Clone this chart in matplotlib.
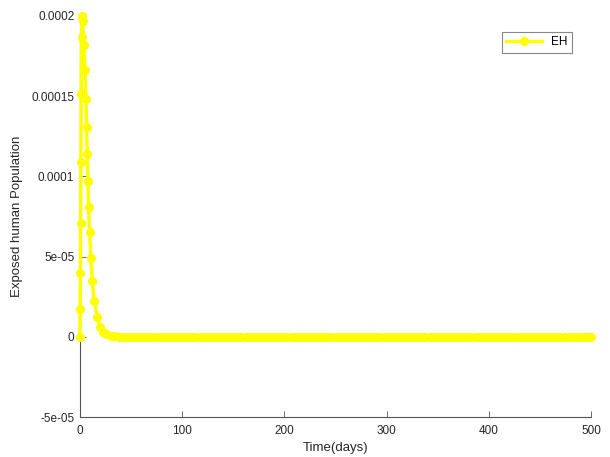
import matplotlib
matplotlib.use('Agg')
import matplotlib.pyplot as plt

plt.rcParams['font.family'] = ['Liberation Sans', 'DejaVu Sans']

# Exposed human population over time
t_rise = [0, 0.25, 0.5, 0.75, 1.0, 1.25, 1.6, 2.0]
eh_rise = [0, 1.7e-5, 4.0e-5, 7.1e-5, 1.09e-4, 1.51e-4, 1.865e-4, 2.0e-4]

t_fall = [2.6, 3.9, 4.9, 5.9, 6.5, 7.2, 7.8, 8.5, 9.5, 10.8, 12, 14, 17, 20,
          23, 26, 30, 34, 38]
eh_fall = [1.97e-4, 1.82e-4, 1.66e-4, 1.48e-4, 1.31e-4, 1.14e-4, 9.7e-5, 8.1e-5,
           6.5e-5, 4.9e-5, 3.5e-5, 2.25e-5, 1.25e-5, 6.2e-6,
           3.0e-6, 1.5e-6, 0.7e-6, 0.3e-6, 0.1e-6]

t_tail = [42, 46, 50, 54, 58, 62, 66, 70, 74, 78, 82, 86, 90, 94, 98,
          102, 106, 110, 114, 118, 122, 126, 130, 134, 138, 142, 146, 150,
          154, 158, 162, 166, 170, 174, 178, 182, 186, 190, 194, 198,
          202, 206, 210, 214, 218, 222, 226, 230, 234, 238, 242, 246, 250,
          254, 258, 262, 266, 270, 274, 278, 282, 286, 290, 294, 298,
          302, 306, 310, 314, 318, 322, 326, 330, 334, 338, 342, 346, 350,
          354, 358, 362, 366, 370, 374, 378, 382, 386, 390, 394, 398,
          402, 406, 410, 414, 418, 422, 426, 430, 434, 438, 442, 446, 450,
          454, 458, 462, 466, 470, 474, 478, 482, 486, 490, 494, 498, 500]
eh_tail = [0.0] * len(t_tail)

time = t_rise + t_fall + t_tail
eh = eh_rise + eh_fall + eh_tail

yticks = [-5e-5, 0, 5e-5, 1e-4, 1.5e-4, 2e-4]
ytick_labels = ['-5e-05', '0', '5e-05', '0.0001', '0.00015', '0.0002']
xticks = [0, 100, 200, 300, 400, 500]

fig = plt.figure(figsize=(6.1, 4.57), dpi=100)
ax = fig.add_axes([0.131, 0.0875, 0.838, 0.878])

ax.plot(time, eh, color='#ffff00', linewidth=2.5, marker='o',
        markersize=5.5, label='EH', clip_on=False, zorder=3)

ax.set_xlim(0, 500)
ax.set_ylim(-5e-5, 2e-4)
ax.set_xticks(xticks)
ax.set_yticks(yticks)
ax.set_yticklabels(ytick_labels)

for side in ['top', 'right']:
    ax.spines[side].set_visible(False)
for side in ['left', 'bottom']:
    ax.spines[side].set_color('#555555')
    ax.spines[side].set_linewidth(0.8)
    ax.spines[side].set_zorder(1)

ax.tick_params(direction='in', length=4, width=0.6, colors='#555555',
               labelcolor='#262626', labelsize=8.5, pad=4)
ax.tick_params(axis='x', pad=6)

ax.set_xlabel('Time(days)', fontsize=9.5, color='#262626', labelpad=3)
ax.set_ylabel('Exposed human Population', fontsize=9.5, color='#262626', labelpad=6)

leg = ax.legend(loc='upper right', bbox_to_anchor=(0.975, 0.975), fontsize=8.5,
                fancybox=False, framealpha=1, handlelength=3)
leg.get_frame().set_edgecolor('#888888')
leg.get_frame().set_linewidth(0.8)

fig.savefig('out.png', dpi=100)
